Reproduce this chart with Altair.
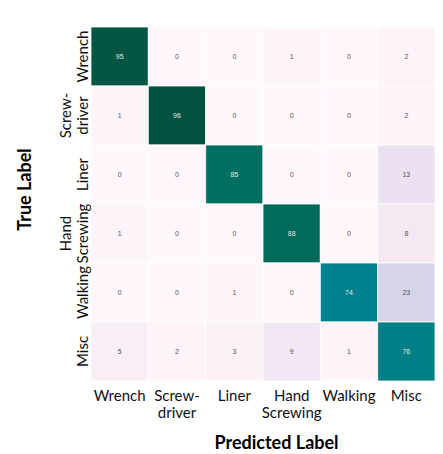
import altair as alt
import pandas as pd

labels = ["Wrench", "Screw-driver", "Liner", "Hand Screwing", "Walking", "Misc"]
label_lines = {
    "Wrench": ["Wrench"],
    "Screw-driver": ["Screw-", "driver"],
    "Liner": ["Liner"],
    "Hand Screwing": ["Hand", "Screwing"],
    "Walking": ["Walking"],
    "Misc": ["Misc"],
}
# rows = true label, columns = predicted label (percent)
matrix = [
    [95, 0, 0, 1, 0, 2],
    [1, 96, 0, 0, 0, 2],
    [0, 0, 85, 0, 0, 13],
    [1, 0, 0, 88, 0, 8],
    [0, 0, 1, 0, 74, 23],
    [5, 2, 3, 9, 1, 76],
]
cmap_stops = [0, 12.5, 25, 37.5, 50, 62.5, 75, 87.5, 100]
cmap_colors = ["#fff7fb", "#ece2f0", "#d0d1e6", "#a6bddb", "#67a9cf",
               "#3690c0", "#02818a", "#016c59", "#014636"]

rows = []
for i, t in enumerate(labels):
    for j, p in enumerate(labels):
        rows.append({"true": t, "pred": p, "value": matrix[i][j]})
df = pd.DataFrame(rows)


def arr(v):
    return "[" + ", ".join("'" + s + "'" for s in v) + "]"


def lab_expr(pad_single=False):
    parts = []
    for k, v in label_lines.items():
        if len(v) > 1:
            parts.append(f"datum.value == '{k}' ? {arr(v)}")
    fallback = "['', datum.value]" if pad_single else "datum.value"
    return " : ".join(parts) + " : " + fallback


FONT = "Lato"

x = alt.X("pred:N", sort=labels, title="Predicted Label",
          axis=alt.Axis(labelAngle=0, labelFont=FONT, labelFontSize=15, labelColor="#111",
                        labelPadding=7, labelLineHeight=17, labelBaseline="top",
                        labelExpr=lab_expr(), ticks=False, domain=False,
                        titleFont=FONT, titleFontSize=18, titleFontWeight="bold", titleColor="#000",
                        titleX=185, titleY=67, titleBaseline="alphabetic", titleAlign="center"))
y = alt.Y("true:N", sort=labels, title="True Label",
          axis=alt.Axis(labelAngle=270, labelFont=FONT, labelFontSize=15, labelColor="#111",
                        labelPadding=18, labelLineHeight=17, labelAlign="center", labelBaseline="bottom",
                        labelExpr=lab_expr(pad_single=True), ticks=False, domain=False,
                        titleFont=FONT, titleFontSize=18, titleFontWeight="bold", titleColor="#000",
                        titleAngle=270, titleX=-57, titleY=162, titleBaseline="bottom", titleAlign="center"))

base = alt.Chart(df).encode(x=x, y=y)

rect = base.mark_rect(stroke="white", strokeWidth=0.8).encode(
    color=alt.Color("value:Q", legend=None,
                    scale=alt.Scale(domain=cmap_stops, range=cmap_colors, type="linear"))
)
text = base.mark_text(font="Liberation Sans", fontSize=7).encode(
    text="value:Q",
    color=alt.condition("datum.value > 50", alt.value("#e6e6e6"), alt.value("#555555")),
)

chart = (rect + text).properties(
    width=344, height=354,
    autosize=alt.AutoSizeParams(type="none"),
    padding={"left": 83, "top": 19, "right": 0, "bottom": 72},
).configure_view(stroke=None).configure_axis(grid=False)

chart.save("out.html", embed_options={"renderer": "svg", "actions": False})
